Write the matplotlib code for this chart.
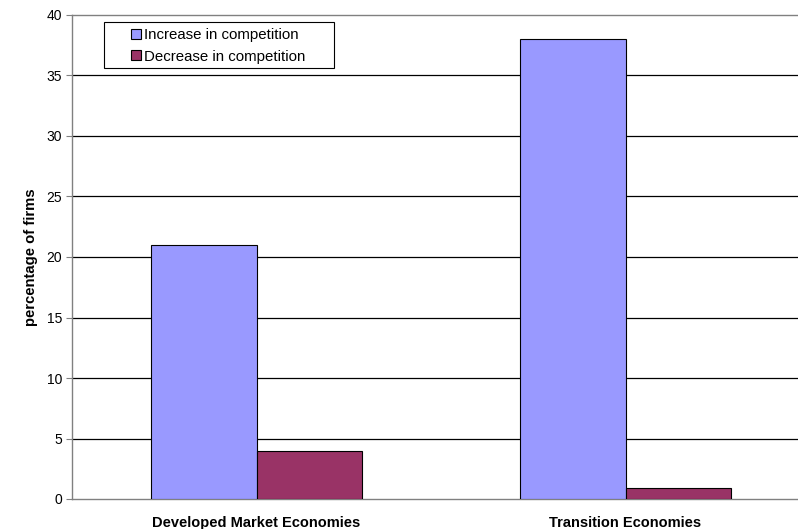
import matplotlib
matplotlib.use("Agg")
import matplotlib.pyplot as plt
from matplotlib.patches import Rectangle
import numpy as np

plt.rcParams['font.family'] = ['Liberation Sans', 'DejaVu Sans']

categories = ["Developed Market Economies", "Transition Economies"]
series_names = ["Increase in competition", "Decrease in competition"]
increase = [21, 38]
decrease = [4, 0.9]
colors = ["#9999FF", "#993366"]
y_ticks = [0, 5, 10, 15, 20, 25, 30, 35, 40]

W, H = 798, 529
fig = plt.figure(figsize=(W / 100, H / 100), dpi=100)
left, right, top, bottom = 72, 810, 15, 499
ax = fig.add_axes([left / W, (H - bottom) / H, (right - left) / W, (bottom - top) / H])

x = np.arange(len(categories))
bw = 0.285
ax.bar(x - bw / 2, increase, bw, color=colors[0], edgecolor="black", linewidth=0.8,
       label=series_names[0], zorder=3)
ax.bar(x + bw / 2, decrease, bw, color=colors[1], edgecolor="black", linewidth=0.8,
       label=series_names[1], zorder=3)

ax.set_xlim(-0.5, 1.5)
ax.set_ylim(0, 40)
ax.set_yticks(y_ticks)
ax.set_yticklabels([str(t) for t in y_ticks], fontsize=10)
ax.set_xticks(x)
ax.set_xticklabels(categories, fontsize=10.5, fontweight="bold")
ax.tick_params(axis="x", length=0, pad=12)
ax.tick_params(axis="y", length=4, width=0.8, color="#808080", pad=3)

for y in y_ticks[1:-1]:
    ax.axhline(y, color="black", linewidth=0.9, zorder=1)

for side in ["top", "right", "left", "bottom"]:
    ax.spines[side].set_color("#808080")
    ax.spines[side].set_linewidth(1.0)

ax.set_ylabel("percentage of firms", fontsize=10.7, fontweight="bold", labelpad=6)

# legend box drawn separately so it can have wide side margins
box_l, box_t, box_r, box_b = 104, 22, 334, 68
fig.add_artist(Rectangle((box_l / W, 1 - box_b / H), (box_r - box_l) / W, (box_b - box_t) / H,
                         transform=fig.transFigure, facecolor="white", edgecolor="black",
                         linewidth=0.8, zorder=5))
leg = fig.legend(*ax.get_legend_handles_labels(), loc="upper left",
                 bbox_to_anchor=(131 / W, 1 - 28 / H),
                 fontsize=10.8, frameon=False,
                 handlelength=0.65, handleheight=0.65, handletextpad=0.2,
                 borderpad=0, labelspacing=0.5, borderaxespad=0)
leg.set_zorder(6)

fig.savefig("out.png", dpi=100)
